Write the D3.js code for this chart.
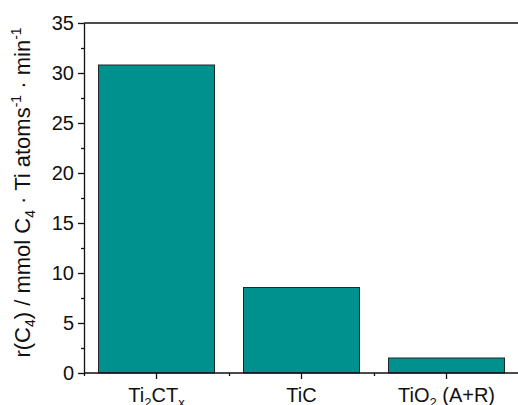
<!DOCTYPE html>
<html>
<head>
<meta charset="utf-8">
<script src="https://cdn.jsdelivr.net/npm/d3@7"></script>
<style>
  body { margin: 0; background: #fff; }
  text { font-family: "Liberation Sans", Arial, sans-serif; fill: #111; }
</style>
</head>
<body>
<svg id="chart" width="518" height="405"></svg>
<script>
// data
var categories = ["Ti2CTx", "TiC", "TiO2"];
var rates = [30.8, 8.55, 1.5];
var yTicks = [0, 5, 10, 15, 20, 25, 30, 35];
var yMinorTicks = [2.5, 7.5, 12.5, 17.5, 22.5, 27.5, 32.5];

var margin = {top: 23, right: 0, bottom: 32, left: 84};
var width = 518 - margin.left - margin.right;
var height = 405 - margin.top - margin.bottom;

var svg = d3.select("#chart");
var g = svg.append("g").attr("transform", "translate(" + margin.left + "," + margin.top + ")");

var x = d3.scaleBand().domain(categories).range([0, 435]).paddingInner(0.2).paddingOuter(0.1);
var y = d3.scaleLinear().domain([0, 35]).range([height, 0]);

// bars
g.selectAll(".bar")
    .data(rates)
    .enter()
    .append("rect")
    .attr("class", "bar")
    .attr("x", function(d, i) { return x(categories[i]); })
    .attr("y", function(d) { return y(d); })
    .attr("width", x.bandwidth())
    .attr("height", function(d) { return height - y(d); })
    .attr("fill", "#00918e")
    .attr("stroke", "#1e2a2a")
    .attr("stroke-width", 1);

// y axis
var yAxis = g.append("g")
    .call(d3.axisLeft(y).tickValues(yTicks).tickSize(6).tickPadding(4).tickSizeOuter(0));
yAxis.selectAll("text").style("font-size", "20px").attr("dy", "0.3em");
g.append("g")
    .call(d3.axisLeft(y).tickValues(yMinorTicks).tickSize(3).tickFormat("").tickSizeOuter(0))
    .select(".domain").remove();

// x axis
var xAxis = g.append("g")
    .attr("transform", "translate(0," + height + ")")
    .call(d3.axisBottom(x).tickSize(6).tickSizeOuter(0).tickFormat(""));
xAxis.select(".domain").attr("d", "M0,0H" + width);
var step = x.step();
var minorX = [0, step, 2 * step, 3 * step];
xAxis.selectAll(".minor")
    .data(minorX)
    .enter()
    .append("line")
    .attr("class", "minor")
    .attr("x1", function(d) { return d + 0.5; })
    .attr("x2", function(d) { return d + 0.5; })
    .attr("y2", 3)
    .attr("stroke", "#111");

g.selectAll("path.domain, .tick line, line.minor").attr("stroke", "#111").attr("stroke-width", 1.3);

// top frame line
g.append("line")
    .attr("x1", 0).attr("x2", width)
    .attr("y1", 0).attr("y2", 0)
    .attr("stroke", "#111").attr("stroke-width", 1.5);

// appends text pieces; level -1 = subscript, 1 = superscript
function richText(t, parts, subDy, supDy, small) {
    var shift = 0;
    parts.forEach(function(p) {
        var dy = 0;
        if (p[1] === -1) dy = subDy;
        if (p[1] === 1) dy = supDy;
        t.append("tspan")
            .attr("dy", dy - shift)
            .style("font-size", p[1] ? small : null)
            .text(p[0]);
        shift = dy;
    });
}

// x tick labels with subscripts
var labelParts = [
    [["Ti", 0], ["2", -1], ["CT", 0], ["x", -1]],
    [["TiC", 0]],
    [["TiO", 0], ["2", -1], [" (A+R)", 0]]
];
labelParts.forEach(function(parts, i) {
    var t = g.append("text")
        .attr("x", x(categories[i]) + x.bandwidth() / 2)
        .attr("y", height + 28.5)
        .attr("text-anchor", "middle")
        .style("font-size", "20px");
    richText(t, parts, 5, -8, "13px");
});

// y title
var yt = svg.append("text")
    .attr("transform", "translate(29.5,192.5) rotate(-90)")
    .attr("text-anchor", "middle")
    .style("font-size", "22px");
richText(yt, [
    ["r(C", 0], ["4", -1], [") / mmol C", 0], ["4", -1], [" \u00b7 Ti atoms", 0],
    ["-1", 1], [" \u00b7 min", 0], ["-1", 1]
], 5, -9, "14px");
</script>
</body>
</html>
